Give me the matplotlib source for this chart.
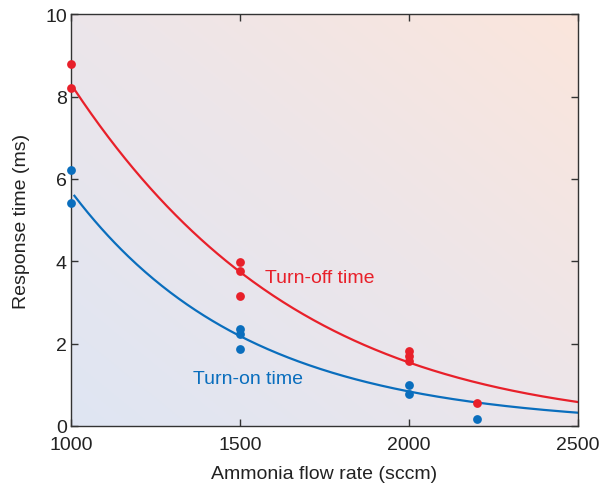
import numpy as np
import matplotlib
matplotlib.use("Agg")
import matplotlib.pyplot as plt
from matplotlib.colors import LinearSegmentedColormap

plt.rcParams['font.family'] = ['Liberation Sans', 'DejaVu Sans']

# measured points
off_x = [1000, 1000, 1500, 1500, 1500, 2000, 2000, 2000, 2200]
off_y = [8.79, 8.20, 3.98, 3.76, 3.16, 1.82, 1.70, 1.58, 0.56]
on_x = [1000, 1000, 1500, 1500, 1500, 2000, 2000, 2200]
on_y = [6.21, 5.41, 2.35, 2.23, 1.87, 1.00, 0.78, 0.17]

# fitted curves: ln y = c0 + c1*t + c2*t^2, t = x - 1000
off_fit = [2.116, -0.001504, -1.8e-7]
on_fit = [1.740, -0.001919, 0.0]

red = "#e8202a"
blue = "#0a6ebd"

fig = plt.figure(figsize=(6.02, 4.89), dpi=100)
ax = fig.add_axes([0.118, 0.127, 0.842, 0.842])

# diagonal background gradient
gx, gy = np.meshgrid(np.linspace(0, 1, 200), np.linspace(0, 1, 200))
cmap = LinearSegmentedColormap.from_list("bg", ["#dfe5f3", "#ece6ea", "#fbe5dc"])
ax.imshow((gx + gy) / 2, cmap=cmap, origin="lower", extent=[1000, 2500, 0, 10],
          aspect="auto", zorder=0, vmin=0, vmax=1)

xs = np.linspace(1010, 2500, 300)
t = xs - 1000
ax.plot(xs, np.exp(off_fit[0] + off_fit[1] * t + off_fit[2] * t**2), color=red, lw=1.6, zorder=2)
ax.plot(xs, np.exp(on_fit[0] + on_fit[1] * t + on_fit[2] * t**2), color=blue, lw=1.6, zorder=2)
ax.scatter(off_x, off_y, s=40, color=red, zorder=3, clip_on=False, linewidths=0)
ax.scatter(on_x, on_y, s=40, color=blue, zorder=3, clip_on=False, linewidths=0)

ax.text(1574, 3.6, "Turn-off time", color=red, fontsize=14, va="center")
ax.text(1361, 1.15, "Turn-on time", color=blue, fontsize=14, va="center")

ax.set_xlim(1000, 2500)
ax.set_ylim(0, 10)
ax.set_xticks([1000, 1500, 2000, 2500])
ax.set_yticks([0, 2, 4, 6, 8, 10])
ax.tick_params(direction="in", top=True, right=True, length=5, width=1,
               labelsize=14, colors="#333333", labelcolor="#222222", pad=3)
ax.tick_params(axis="x", pad=7)
for s in ax.spines.values():
    s.set_color("#333333")
    s.set_linewidth(1)

ax.set_xlabel("Ammonia flow rate (sccm)", fontsize=14, color="#222222", labelpad=9)
ax.set_ylabel("Response time (ms)", fontsize=14, color="#222222", labelpad=11)

plt.savefig("out.png", dpi=100)
